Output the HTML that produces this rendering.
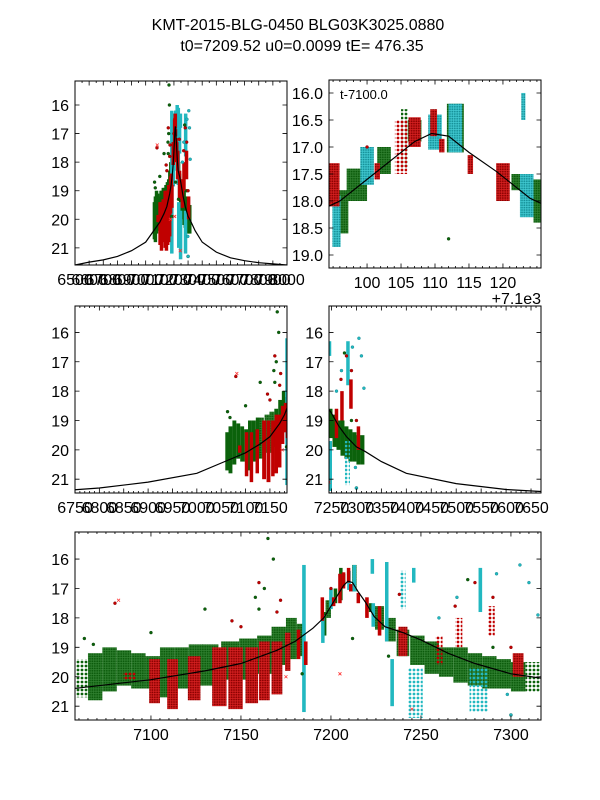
<!DOCTYPE html>
<html><head><meta charset="utf-8"><title>KMT-2015-BLG-0450</title>
<style>
html,body{margin:0;padding:0;background:#fff;}
svg{display:block;font-family:"Liberation Sans","DejaVu Sans",sans-serif;}
</style></head>
<body>
<svg id="chart" width="600" height="800" viewBox="0 0 600 800" xmlns="http://www.w3.org/2000/svg">
<rect width="600" height="800" fill="#fff"/>
<text x="298" y="30" font-size="16" text-anchor="middle">KMT-2015-BLG-0450 BLG03K3025.0880</text>
<text x="302" y="51" font-size="16" text-anchor="middle">t0=7209.52 u0=0.0099 tE= 476.35</text>
<defs>
<pattern id="pg1" width="2.4" height="2.4" patternUnits="userSpaceOnUse"><rect width="2.4" height="2.4" fill="#2f7f2f"/><circle cx="1.2" cy="1.2" r="0.9" fill="#0a5a0a"/></pattern>
<pattern id="pr1" width="2.4" height="2.4" patternUnits="userSpaceOnUse"><rect width="2.4" height="2.4" fill="#d42020"/><circle cx="1.2" cy="1.2" r="0.9" fill="#8a0000"/></pattern>
<pattern id="pc1" width="2.4" height="2.4" patternUnits="userSpaceOnUse"><rect width="2.4" height="2.4" fill="#40c8d0"/><circle cx="1.2" cy="1.2" r="0.9" fill="#159098"/></pattern>
<pattern id="pg0" width="4" height="4" patternUnits="userSpaceOnUse"><circle cx="2" cy="2" r="1.4" fill="#0b620b"/></pattern>
<pattern id="pr0" width="4" height="4" patternUnits="userSpaceOnUse"><circle cx="2" cy="2" r="1.4" fill="#c00000"/></pattern>
<pattern id="pc0" width="4" height="4" patternUnits="userSpaceOnUse"><circle cx="2" cy="2" r="1.4" fill="#22b8c0"/></pattern>
</defs>
<g id="panels"></g>
</svg>
<script>
// ---- data (HJD-2450000, magnitude) ----
// KMTC (green) nightly clusters
const gT   = [7062,7069,7077,7085,7093,7101,7109,7117,7125,7133,7144,7154,7163,7171,7178,7183,7196.5,7198.5,7202.5,7205.5,7207,7213,7222,7227,7233,7240,7248,7256,7264,7272,7280,7288,7296,7304,7312];
const gW   = [7,8,8,8,8,8,8,8,8,9,10,10,8,8,6,4,1.5,3,2,1,2,2.5,1.5,5,6,7,8,8,8,8,8,8,8,8,8];
const gTop = [19.4,19.2,19.0,19.1,19.2,19.3,19.0,19.0,18.9,18.9,18.8,18.7,18.6,18.3,18.0,18.2,17.8,17.4,17.0,16.3,16.5,16.2,17.5,17.6,18.0,18.4,18.6,18.8,19.0,19.0,19.2,19.3,19.4,19.5,19.5];
const gBot = [20.7,20.8,20.5,20.3,20.4,20.4,20.7,20.4,20.3,20.3,20.1,20.1,19.9,19.6,19.4,19.3,18.6,18.0,17.5,17.4,16.9,17.1,17.8,18.4,18.8,19.3,19.6,19.9,20.0,20.2,20.3,20.4,20.4,20.5,20.5];
const gDen = [0,1,1,1,1,1,1,1,1,1,1,1,1,1,1,1,1,1,1,0,1,1,1,1,1,1,1,1,1,1,1,1,1,1,0];
// KMTS (red) nightly clusters
const rT   = [7088,7102,7112,7124,7138,7147,7156,7163,7170,7176,7182,7186,7195.2,7201.5,7205,7207,7209.8,7211,7215.2,7220,7227,7240,7260,7271,7289,7304];
const rW   = [7,6,6,7,8,8,7,6,6,3,2,2,1.5,0.8,1.8,1.8,1,0.8,0.8,2,2,5,4,4,4,6];
const rTop = [19.85,19.4,19.4,19.3,19.0,19.0,19.0,18.8,18.8,18.5,18.4,18.8,17.3,17.3,16.5,16.45,16.3,16.85,17.15,17.3,17.6,18.3,18.6,18.0,17.6,19.2];
const rBot = [20.1,20.9,21.1,20.8,21.0,21.1,20.9,20.8,20.6,19.8,19.4,19.6,18.1,17.6,17.5,17.0,16.8,17.1,17.5,18.0,18.6,19.3,19.6,19.0,18.6,20.0];
const rDen = [0,1,1,1,1,1,1,1,1,1,1,1,1,1,0,1,1,1,1,1,1,1,0,0,0,1];
// KMTA (cyan) nightly clusters
const cT   = [7185,7195.5,7200,7210,7213,7223.5,7223,7231,7234,7240,7247,7246,7283,7282];
const cW   = [2,1.2,2,2,2,2,0.6,1.5,2,3,8,1,2,10];
const cTop = [16.2,17.9,17.0,16.4,16.2,17.5,16.0,16.1,19.4,16.4,19.7,16.3,16.3,19.7];
const cBot = [21.2,18.85,17.7,17.05,17.1,18.3,16.5,18.8,21.0,17.7,21.4,16.8,17.8,21.2];
const cDen = [1,1,1,1,1,1,1,0,0,0,0,1,0,0];
// isolated points
const gOutT = [7063,7068,7100,7130,7158,7160,7163,7165,7168,7184,7232,7276,7290,7300,7212];
const gOutM = [18.7,18.9,18.5,17.7,17.3,17.7,17.0,15.3,16.0,19.9,19.3,16.7,19.0,21.3,18.7];
const rOutT = [7080,7145,7150,7160,7170,7172,7238,7269,7280,7290,7200,7300];
const rOutM = [17.5,18.1,18.3,16.8,17.8,17.4,17.2,17.6,16.8,17.3,17.0,19.0];
const cOutT = [7292,7305,7310,7270,7260,7300,7315,7298];
const cOutM = [16.5,16.2,16.8,17.3,18.0,21.3,17.9,20.6];
const xOutT = [7082,7175,7245,7205];
const xOutM = [17.4,20.0,21.1,19.9];
// model curve samples
const curveT = [6500,6600,6700,6800,6900,7000,7060,7100,7130,7150,7170,7180,7190,7196,7200,7204,7207,7209.5,7212,7215,7219,7224,7230,7240,7250,7265,7280,7300,7317,7350,7400,7500,7600,7700,7800,8000];
const curveM = [21.6,21.5,21.42,21.3,21.1,20.8,20.38,20.1,19.8,19.55,19.1,18.8,18.35,18.0,17.6,17.2,16.9,16.75,16.8,17.1,17.45,17.95,18.3,18.5,18.75,19.2,19.55,19.9,20.05,20.4,20.8,21.15,21.35,21.45,21.52,21.6];
// tick labels
const p1XTicks = [6500,6600,6700,6800,6900,7000,7100,7200,7300,7400,7500,7600,7700,7800,7900,8000];
const p2XTicks = [100,105,110,115,120];
const p3XTicks = [6750,6800,6850,6900,6950,7000,7050,7100,7150];
const p4XTicks = [7250,7300,7350,7400,7450,7500,7550,7600,7650];
const p5XTicks = [7100,7150,7200,7250,7300];
const magTicks = [16,17,18,19,20,21];
const p2YTicks = [16.0,16.5,17.0,17.5,18.0,18.5,19.0];

const NS = "http://www.w3.org/2000/svg";
const root = document.getElementById('panels');
function mk(tag, attrs, parent){ const e=document.createElementNS(NS,tag); for(const k in attrs) e.setAttribute(k,attrs[k]); (parent||root).appendChild(e); return e; }

const panels = [
 {name:'panel-full', x0:75,x1:287,y0:81,y1:265, t0:6500,t1:8000, m0:15.16,m1:21.6, off:0, xt:p1XTicks, minor:50, yt:magTicks, fmt:v=>String(v)},
 {name:'panel-peak', x0:329,x1:541,y0:80,y1:268, t0:7194.4,t1:7225.6, m0:15.76,m1:19.24, off:7100, xt:p2XTicks, minor:1, yt:p2YTicks, fmt:v=>v.toFixed(1)},
 {name:'panel-pre', x0:75,x1:287,y0:306,y1:493, t0:6750,t1:7185, m0:15.1,m1:21.47, off:0, xt:p3XTicks, minor:10, yt:magTicks, fmt:v=>String(v)},
 {name:'panel-post', x0:329,x1:541,y0:306,y1:493, t0:7245,t1:7670, m0:15.1,m1:21.47, off:0, xt:p4XTicks, minor:10, yt:magTicks, fmt:v=>String(v)},
 {name:'panel-season', x0:75,x1:541,y0:532,y1:720, t0:7057.8,t1:7316.7, m0:15.08,m1:21.47, off:0, xt:p5XTicks, minor:5, yt:magTicks, fmt:v=>String(v)}
];

panels.forEach((p,i)=>{
  const g = mk('g',{});
  
  
  const xs = t => p.x0 + (t - p.t0)/(p.t1-p.t0)*(p.x1-p.x0);
  const ys = m => p.y0 + (m - p.m0)/(p.m1-p.m0)*(p.y1-p.y0);
  const dpx = (p.x1-p.x0)/(p.t1-p.t0);
  const cp = mk('clipPath',{id:'clip'+i}, g);
  mk('rect',{x:p.x0,y:p.y0,width:p.x1-p.x0,height:p.y1-p.y0}, cp);
  const plot = mk('g',{'clip-path':'url(#clip'+i+')'}, g);
  function clusters(T,W,Top,Bot,Den,key,col,nm){
    for(let k=0;k<T.length;k++){
      const w=Math.max(W[k]*dpx,3.5);
      const fill = w<4 ? col : 'url(#'+key+(Den[k]?'1':'0')+')';
      const r=mk('rect',{x:xs(T[k])-w/2,y:ys(Top[k]),width:w,height:Math.max(ys(Bot[k])-ys(Top[k]),2),fill:fill}, plot);
      
      
    }
  }
  function pts(T,M,col,stroke,nm){
    for(let k=0;k<T.length;k++){
      const c=mk('circle',{cx:xs(T[k]),cy:ys(M[k]),r:1.5,fill:col,stroke:stroke,'stroke-width':0.4}, plot);
      
      
    }
  }
  clusters(gT,gW,gTop,gBot,gDen,'pg','#0b620b','kmtc-cluster');
  clusters(cT,cW,cTop,cBot,cDen,'pc','#22b8c0','kmta-cluster');
  clusters(rT,rW,rTop,rBot,rDen,'pr','#c00000','kmts-cluster');
  pts(gOutT,gOutM,'#0b620b','#064006','kmtc-point');
  pts(rOutT,rOutM,'#c00000','#7a0000','kmts-point');
  pts(cOutT,cOutM,'#22b8c0','#118088','kmta-point');
  for(let k=0;k<xOutT.length;k++){
    const x=xs(xOutT[k]), y=ys(xOutM[k]);
    const xm=mk('path',{d:`M${x-1.5},${y-1.5}L${x+1.5},${y+1.5}M${x-1.5},${y+1.5}L${x+1.5},${y-1.5}`,stroke:'#ff3030','stroke-width':0.8}, plot);
    
    
  }
  let d='';
  for(let k=0;k<curveT.length;k++){ d+=(k?'L':'M')+xs(curveT[k]).toFixed(2)+','+ys(curveM[k]).toFixed(2); }
  const cv=mk('path',{d:d,fill:'none',stroke:'#000','stroke-width':1.2}, plot);
  
  
  const fr=mk('rect',{x:p.x0,y:p.y0,width:p.x1-p.x0,height:p.y1-p.y0,fill:'none',stroke:'#000','stroke-width':1}, g);
  
  
  let tk='';
  const start=Math.ceil((p.t0)/p.minor)*p.minor;
  for(let t=start;t<=p.t1;t+=p.minor){ const x=xs(t); tk+=`M${x},${p.y1}v-2M${x},${p.y0}v2`; }
  p.xt.forEach(v=>{ const x=xs(v+p.off); if(x>=p.x0-0.5&&x<=p.x1+0.5) tk+=`M${x},${p.y1}v-4.5M${x},${p.y0}v4.5`; });
  p.yt.forEach(v=>{ const y=ys(v); tk+=`M${p.x0},${y}h4.5M${p.x1},${y}h-4.5`; });
  mk('path',{d:tk,stroke:'#000','stroke-width':0.8,fill:'none'}, g);
  p.xt.forEach(v=>{
    const t=mk('text',{x:xs(v+p.off),y:p.y1+20,'font-size':16,'text-anchor':'middle'}, g);
    t.textContent=String(v);
    
    
  });
  p.yt.forEach(v=>{
    const t=mk('text',{x:p.x0-6,y:ys(v)+6,'font-size':16,'text-anchor':'end'}, g);
    t.textContent=p.fmt(v);
    
    
  });
});
const lab=mk('text',{x:340,y:99,'font-size':13});
lab.textContent='t-7100.0';


const off=mk('text',{x:541,y:304,'font-size':16,'text-anchor':'end'});
off.textContent='+7.1e3';


</script>
</body></html>
